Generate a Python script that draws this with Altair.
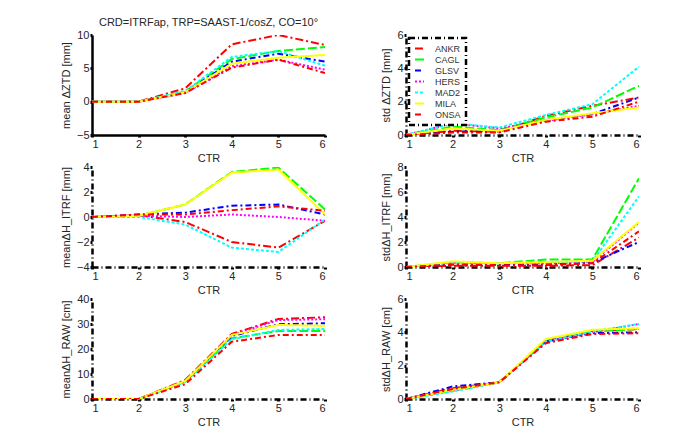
import altair as alt
import pandas as pd

STATIONS = ["ANKR", "CAGL", "GLSV", "HERS", "MAD2", "MILA", "ONSA"]
CTR = [1, 2, 3, 4, 5, 6]
COLORS = ["#ff0000", "#00ff00", "#0000ff", "#ff00ff", "#00ffff", "#ffff00", "#ff0000"]
DASHES = [[8, 3, 2, 3], [9, 3], [6, 3, 2, 3], [2, 2], [3, 2], [1, 0], [6, 3, 2, 3]]

ZTD_MEAN = {
    "ANKR": [0, 0, 2.0, 8.6, 10.0, 8.5],
    "CAGL": [0, 0, 1.5, 6.4, 7.6, 8.2],
    "GLSV": [0, 0, 1.4, 6.0, 7.2, 6.0],
    "HERS": [0, 0, 1.3, 5.3, 6.3, 4.8],
    "MAD2": [0, 0, 1.6, 6.7, 7.6, 5.4],
    "MILA": [0, 0, 1.4, 5.7, 6.6, 7.0],
    "ONSA": [0, 0, 1.3, 5.1, 6.3, 4.3],
}
ZTD_STD = {
    "ANKR": [0, 0.25, 0.2, 1.15, 1.75, 2.25],
    "CAGL": [0, 0.5, 0.3, 1.05, 1.65, 2.95],
    "GLSV": [0, 0.2, 0.25, 0.9, 1.25, 2.25],
    "HERS": [0, 0.7, 0.4, 0.85, 1.25, 1.75],
    "MAD2": [0, 0.7, 0.45, 1.2, 1.85, 4.1],
    "MILA": [0, 0.4, 0.25, 0.9, 1.3, 1.65],
    "ONSA": [0, 0.15, 0.15, 0.8, 1.1, 2.0],
}
H_ITRF_MEAN = {
    "ANKR": [0, 0.15, -0.4, -2.0, -2.45, -0.3],
    "CAGL": [0, 0.1, 1.0, 3.6, 3.95, 0.6],
    "GLSV": [0, 0.2, 0.35, 0.9, 1.0, 0.2],
    "HERS": [0, 0.1, 0.0, 0.2, 0.0, -0.3],
    "MAD2": [0, 0.0, -0.6, -2.45, -2.8, -0.2],
    "MILA": [0, 0.1, 1.0, 3.55, 3.8, 0.2],
    "ONSA": [0, 0.2, 0.2, 0.55, 0.85, 0.5],
}
H_ITRF_STD = {
    "ANKR": [0, 0.1, 0.1, 0.1, 0.15, 2.35],
    "CAGL": [0, 0.4, 0.3, 0.6, 0.6, 7.1],
    "GLSV": [0, 0.2, 0.2, 0.2, 0.35, 2.0],
    "HERS": [0, 0.35, 0.3, 0.3, 0.4, 3.55],
    "MAD2": [0, 0.35, 0.3, 0.4, 0.45, 5.65],
    "MILA": [0, 0.45, 0.3, 0.4, 0.5, 3.6],
    "ONSA": [0, 0.2, 0.15, 0.15, 0.3, 2.85],
}
H_RAW_MEAN = {
    "ANKR": [0, 0, 7.6, 26.0, 32.0, 32.7],
    "CAGL": [0, 0, 7.0, 24.3, 27.2, 27.2],
    "GLSV": [0, 0, 7.0, 25.2, 29.9, 30.3],
    "HERS": [0, 0, 7.0, 25.6, 31.6, 31.9],
    "MAD2": [0, 0, 6.8, 23.9, 27.6, 28.0],
    "MILA": [0, 0, 7.2, 25.6, 29.6, 29.3],
    "ONSA": [0, 0, 5.9, 22.9, 25.6, 25.6],
}
H_RAW_STD = {
    "ANKR": [0, 0.65, 1.0, 3.5, 4.1, 4.2],
    "CAGL": [0, 0.5, 1.0, 3.45, 4.05, 4.2],
    "GLSV": [0, 0.75, 1.0, 3.45, 3.95, 4.0],
    "HERS": [0, 0.5, 1.0, 3.45, 4.0, 4.5],
    "MAD2": [0, 0.45, 1.0, 3.45, 4.05, 4.5],
    "MILA": [0, 0.55, 1.0, 3.6, 4.15, 4.25],
    "ONSA": [0, 0.6, 1.0, 3.35, 3.9, 3.95],
}

FONT = "Liberation Sans"
DASHDOT = [6, 3, 1, 3]
W, H = 233, 100


def long_df(d):
    rows = []
    for i, s in enumerate(STATIONS):
        for c, v in zip(CTR, d[s]):
            rows.append({"station": s, "ctr": c, "value": v, "ord": i})
    return pd.DataFrame(rows)


def panel(d, ytitle, ydom, yticks, axis_dash, title=None, legend=False):
    leg = None
    if legend:
        leg = alt.Legend(
            title=None, orient="top-left", offset=3,
            symbolType="stroke", symbolSize=81, symbolStrokeWidth=2,
            labelFont=FONT, labelFontSize=9, labelColor="#333333",
            labelOffset=10, padding=5, rowPadding=0,
            fillColor="white",
        )
    axis_common = dict(
        domainColor="black", domainWidth=2.5, domainDash=axis_dash,
        tickColor="black", tickWidth=3, tickSize=2,
        labelFont=FONT, labelFontSize=11, labelColor="#262626",
        titleFont=FONT, titleFontSize=11, titleColor="#262626",
        titleFontWeight="normal", grid=False, labelPadding=1,
    )
    ch = alt.Chart(long_df(d)).mark_line(strokeWidth=2, clip=True).encode(
        x=alt.X("ctr:Q", scale=alt.Scale(domain=[1, 6], nice=False),
                axis=alt.Axis(values=CTR, format="d", title="CTR", titlePadding=3, **axis_common)),
        y=alt.Y("value:Q", scale=alt.Scale(domain=ydom, nice=False, zero=False),
                axis=alt.Axis(values=yticks, title=ytitle, titlePadding=5, **axis_common)),
        color=alt.Color("station:N", scale=alt.Scale(domain=STATIONS, range=COLORS), legend=leg),
        strokeDash=alt.StrokeDash("station:N", scale=alt.Scale(domain=STATIONS, range=DASHES), legend=leg),
        order=alt.Order("ord:Q"),
    ).properties(width=W, height=H)
    if title:
        ch = ch.properties(title=alt.TitleParams(title, font=FONT, fontSize=11, fontWeight="normal",
                                                 color="#262626", offset=1))
    return ch


p1 = panel(ZTD_MEAN, "mean \u0394ZTD [mm]", [-5, 10], [-5, 0, 5, 10], [1, 0],
           title="CRD=ITRFap, TRP=SAAST-1/cosZ, CO=10\u00b0")
p2 = panel(ZTD_STD, "std \u0394ZTD [mm]", [0, 6], [0, 2, 4, 6], DASHDOT, legend=True)
p3 = panel(H_ITRF_MEAN, "mean\u0394H_ITRF [mm]", [-4, 4], [-4, -2, 0, 2, 4], DASHDOT)
p4 = panel(H_ITRF_STD, "std\u0394H_ITRF [mm]", [0, 8], [0, 2, 4, 6, 8], DASHDOT)
p5 = panel(H_RAW_MEAN, "mean\u0394H_RAW [cm]", [0, 40], [0, 10, 20, 30, 40], DASHDOT)
p6 = panel(H_RAW_STD, "std\u0394H_RAW [cm]", [0, 6], [0, 2, 4, 6], DASHDOT)

chart = alt.concat(
    p1, p2, p3, p4, p5, p6, columns=2, bounds="flush",
    spacing=alt.RowColnumber(row=32, column=81),
).resolve_legend(
    color="independent", strokeDash="independent"
).resolve_scale(color="independent", strokeDash="independent").properties(
    padding={"left": 52, "top": 9, "right": 5, "bottom": 5},
    background="white",
).configure_view(stroke=None).configure_legend(
    strokeColor="black", strokeWidth=2.5, strokeDash=DASHDOT,
)

chart.save("out.html", embed_options={"renderer": "svg", "actions": False})
